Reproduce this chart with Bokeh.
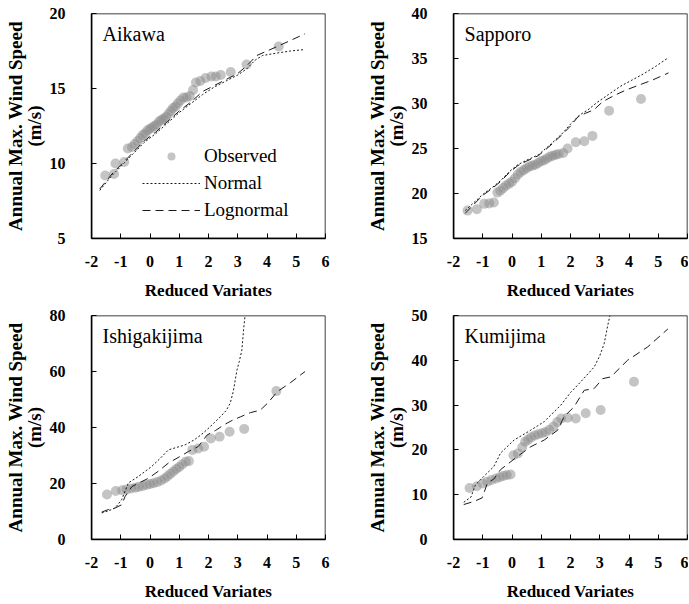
from bokeh.plotting import figure
from bokeh.layouts import column, row
from bokeh.models import Range1d, FixedTicker, Label, Legend, LegendItem, BoxAnnotation
from bokeh.embed import file_html
from bokeh.resources import INLINE

FONT = "Liberation Serif"

# ---------------- data ----------------
x_ticks = [-2, -1, 0, 1, 2, 3, 4, 5, 6]
x_tick_labels = {-2: "-2", -1: "-1", 0: "0", 1: "1", 2: "2", 3: "3", 4: "4", 5: "5", 6: "6"}
x_title = "Reduced Variates"
y_title = "Annual Max. Wind Speed\n(m/s)"
legend_labels = ["Observed", "Normal", "Lognormal"]

# Aikawa
aik_name = "Aikawa"
aik_yrange = [5, 20]
aik_yticks = [5, 10, 15, 20]
aik_obs_x = [-1.53, -1.23, -1.18, -0.88, -0.76, -0.62, -0.52, -0.42, -0.33, -0.25, -0.17, -0.09,
             -0.01, 0.07, 0.15, 0.23, 0.31, 0.39, 0.47, 0.55, 0.63, 0.71, 0.79, 0.87, 0.95, 1.04,
             1.14, 1.25, 1.36, 1.47, 1.57, 1.72, 1.9, 2.1, 2.25, 2.42, 2.76, 3.3, 4.4]
aik_obs_y = [9.2, 9.3, 10.0, 10.1, 11.0, 11.1, 11.3, 11.5, 11.7, 11.9, 12.0, 12.2,
             12.3, 12.4, 12.5, 12.6, 12.8, 12.9, 13.0, 13.1, 13.3, 13.5, 13.7, 13.8, 14.0, 14.2,
             14.4, 14.4, 14.5, 14.9, 15.4, 15.5, 15.7, 15.8, 15.8, 15.9, 16.1, 16.6, 17.8]
aik_norm_x = [-1.72, -1.3, -1.0, -0.6, -0.2, 0.2, 0.6, 1.0, 1.4, 1.8, 2.2, 2.6, 3.0, 3.3, 3.6, 3.85, 4.3, 4.8, 5.3]
aik_norm_y = [8.2, 9.2, 9.8, 10.6, 11.4, 12.0, 12.7, 13.4, 14.0, 14.6, 15.1, 15.5, 15.9, 16.3, 16.9, 17.2, 17.35, 17.5, 17.6]
aik_logn_x = [-1.72, -1.3, -1.0, -0.6, -0.2, 0.2, 0.6, 1.0, 1.4, 1.8, 2.2, 2.6, 3.0, 3.3, 3.65, 4.0, 4.35, 4.8, 5.3]
aik_logn_y = [8.3, 9.3, 9.9, 10.7, 11.5, 12.1, 12.8, 13.5, 14.1, 14.8, 15.2, 15.6, 16.0, 16.5, 17.2, 17.5, 17.8, 18.2, 18.65]

# Sapporo
sap_name = "Sapporo"
sap_yrange = [15, 40]
sap_yticks = [15, 20, 25, 30, 35, 40]
sap_obs_x = [-1.52, -1.2, -0.95, -0.78, -0.62, -0.5, -0.4, -0.3, -0.2, -0.1, 0.0, 0.1, 0.2, 0.3,
             0.4, 0.5, 0.6, 0.7, 0.8, 0.9, 1.0, 1.1, 1.2, 1.3, 1.4, 1.5, 1.6, 1.75, 1.9, 2.18,
             2.47, 2.75, 3.32, 4.41]
sap_obs_y = [18.1, 18.25, 18.85, 18.9, 19.0, 20.1, 20.3, 20.6, 20.9, 21.1, 21.3, 21.7, 22.1, 22.4,
             22.6, 22.8, 23.0, 23.1, 23.2, 23.4, 23.6, 23.7, 23.9, 24.1, 24.2, 24.3, 24.4, 24.5, 25.0, 25.7,
             25.8, 26.4, 29.2, 30.5]
sap_norm_x = [-1.6, -1.3, -1.0, -0.7, -0.4, -0.1, 0.2, 0.5, 0.9, 1.3, 1.7, 2.0, 2.3, 2.6, 2.9, 3.3, 3.7, 4.1, 4.5, 4.9, 5.35]
sap_norm_y = [18.1, 19.0, 19.9, 20.6, 21.4, 22.4, 23.2, 23.7, 24.3, 25.4, 26.6, 27.7, 28.7, 29.3, 30.1, 31.0, 31.9, 32.6, 33.3, 34.1, 35.1]
sap_logn_x = [-1.6, -1.3, -1.0, -0.7, -0.4, -0.1, 0.2, 0.5, 0.9, 1.3, 1.7, 2.0, 2.25, 2.5, 2.8, 3.1, 3.5, 3.9, 4.3, 4.8, 5.35]
sap_logn_y = [17.8, 18.8, 19.8, 20.5, 21.3, 22.3, 23.1, 23.6, 24.2, 25.3, 26.5, 27.5, 28.5, 28.9, 29.3, 30.2, 30.9, 31.5, 32.0, 32.6, 33.4]

# Ishigakijima
ish_name = "Ishigakijima"
ish_yrange = [0, 80]
ish_yticks = [0, 20, 40, 60, 80]
ish_obs_x = [-1.47, -1.17, -0.95, -0.8, -0.65, -0.5, -0.38, -0.25, -0.12, 0.0, 0.12, 0.25, 0.38,
             0.5, 0.6, 0.7, 0.8, 0.9, 1.0, 1.1, 1.22, 1.33, 1.45, 1.65, 1.85, 2.08, 2.38, 2.72,
             3.22, 4.32]
ish_obs_y = [16.1, 17.3, 17.6, 17.9, 18.2, 18.5, 18.8, 19.1, 19.5, 19.8, 20.1, 20.5, 21.1,
             21.8, 22.6, 23.5, 24.3, 25.2, 25.9, 26.8, 27.8, 28.0, 32.0, 32.5, 33.1, 36.1, 36.7, 38.5,
             39.5, 53.0]
ish_norm_x = [-1.65, -1.4, -1.19, -0.97, -0.74, -0.4, 0.06, 0.35, 0.63, 1.2, 1.5, 1.76, 2.06, 2.4,
              2.6, 2.74, 2.85, 2.97, 3.05, 3.14, 3.2, 3.25]
ish_norm_y = [9.5, 10.3, 11.3, 14.2, 20.2, 22.5, 26.1, 29.0, 32.0, 33.8, 35.5, 37.5, 40.3, 43.8,
              46.0, 48.6, 53.0, 60.4, 63.5, 67.6, 75.0, 80.0]
ish_logn_x = [-1.65, -1.42, -1.2, -0.97, -0.85, -0.62, -0.05, 0.3, 0.63, 1.0, 1.31, 1.65, 1.95, 2.25,
              2.52, 2.8, 3.09, 3.43, 3.77, 4.05, 4.34, 4.8, 5.3]
ish_logn_y = [9.8, 10.7, 11.2, 12.4, 15.4, 18.9, 21.9, 24.5, 27.3, 29.5, 31.4, 33.2, 37.3, 39.0,
              40.9, 42.5, 43.8, 45.3, 46.2, 49.0, 52.7, 56.0, 60.0]

# Kumijima
kum_name = "Kumijima"
kum_yrange = [0, 50]
kum_yticks = [0, 10, 20, 30, 40, 50]
kum_obs_x = [-1.45, -1.2, -1.0, -0.85, -0.7, -0.55, -0.42, -0.3, -0.18, -0.05, 0.05, 0.2, 0.35,
             0.45, 0.55, 0.65, 0.78, 0.9, 1.03, 1.15, 1.28, 1.42, 1.55, 1.68, 1.9, 2.18, 2.52,
             3.03, 4.17]
kum_obs_y = [11.5, 11.9, 12.5, 12.9, 13.3, 13.6, 13.9, 14.2, 14.4, 14.5, 18.8, 19.2, 20.6,
             21.8, 22.3, 22.8, 23.2, 23.5, 23.7, 24.0, 24.5, 25.2, 26.2, 27.0, 27.2, 27.0, 28.2,
             28.9, 35.2]
kum_norm_x = [-1.65, -1.4, -1.25, -0.96, -0.62, -0.39, 0.07, 0.64, 1.1, 1.67, 2.0, 2.35, 2.81,
              3.0, 3.15, 3.28, 3.35]
kum_norm_y = [8.3, 9.5, 12.2, 14.1, 16.3, 19.3, 22.2, 24.4, 26.3, 30.0, 32.8, 35.2, 38.5,
              41.0, 43.7, 48.0, 50.0]
kum_logn_x = [-1.65, -1.3, -1.02, -0.84, -0.62, -0.39, 0.18, 0.64, 1.1, 1.56, 1.78, 2.12, 2.47,
              2.81, 3.1, 3.38, 3.95, 4.64, 5.33]
kum_logn_y = [7.8, 8.5, 9.3, 12.6, 13.5, 15.6, 18.5, 20.7, 22.2, 24.4, 27.4, 29.6, 33.3,
              33.7, 35.9, 36.3, 40.0, 43.0, 47.0]


def make_panel(name, yrange, yticks, ox, oy, nx, ny, lx, ly,
               width, height, bl, br, bt, bb):
    p = figure(width=width, height=height, output_backend="svg", toolbar_location=None,
               x_range=Range1d(-2, 6), y_range=Range1d(yrange[0], yrange[1]),
               min_border_left=bl, min_border_right=br, min_border_top=bt, min_border_bottom=bb)
    p.grid.visible = False
    p.background_fill_color = "white"
    p.border_fill_color = "white"
    p.outline_line_color = None

    for ax in (p.xaxis[0], p.yaxis[0]):
        ax.axis_line_color = "black"
        ax.axis_line_width = 1.5
        ax.major_tick_in = 5
        ax.major_tick_out = 0
        ax.major_tick_line_width = 1
        ax.minor_tick_in = 0
        ax.minor_tick_out = 0
        ax.major_label_text_font = FONT
        ax.major_label_text_font_style = "bold"
        ax.major_label_text_font_size = "16px"
        ax.major_label_text_color = "black"
        ax.axis_label_text_font = FONT
        ax.axis_label_text_font_style = "bold"
        ax.axis_label_text_color = "black"

    p.xaxis.ticker = FixedTicker(ticks=x_ticks)
    p.xaxis.major_label_overrides = x_tick_labels
    p.yaxis.ticker = FixedTicker(ticks=yticks)
    p.xaxis.axis_label = x_title
    p.xaxis.axis_label_text_font_size = "17px"
    p.xaxis.major_label_standoff = 17
    p.xaxis.axis_label_standoff = 11
    p.yaxis.axis_label = y_title
    p.yaxis.axis_label_text_font_size = "19px"
    p.yaxis.axis_label_text_line_height = 0.9
    p.yaxis.major_label_standoff = 26
    p.yaxis.axis_label_standoff = 2

    r_obs = p.scatter(ox, oy, size=10, fill_color="#8a8a8a", fill_alpha=0.5, line_color=None)
    r_n = p.line(nx, ny, line_color="#1a1a1a", line_width=1, line_dash="2 2")
    r_l = p.line(lx, ly, line_color="#1a1a1a", line_width=1, line_dash="8 5")

    box = BoxAnnotation(fill_alpha=0, line_color="black", line_alpha=1.0, line_width=1.5)
    p.add_layout(box)

    ytop = yrange[1] - (yrange[1] - yrange[0]) * 0.042
    p.add_layout(Label(x=-1.62, y=ytop, text=name, text_font=FONT, text_font_size="20px",
                       text_baseline="top", text_color="black"))
    return p, r_obs, r_n, r_l


p1, o1, n1, l1 = make_panel(aik_name, aik_yrange, aik_yticks, aik_obs_x, aik_obs_y,
                            aik_norm_x, aik_norm_y, aik_logn_x, aik_logn_y,
                            345, 302, 91, 20, 13, 64)
p2, _, _, _ = make_panel(sap_name, sap_yrange, sap_yticks, sap_obs_x, sap_obs_y,
                         sap_norm_x, sap_norm_y, sap_logn_x, sap_logn_y,
                         343, 302, 108, 1, 13, 64)
p3, _, _, _ = make_panel(ish_name, ish_yrange, ish_yticks, ish_obs_x, ish_obs_y,
                         ish_norm_x, ish_norm_y, ish_logn_x, ish_logn_y,
                         345, 301, 91, 20, 13, 63)
p4, _, _, _ = make_panel(kum_name, kum_yrange, kum_yticks, kum_obs_x, kum_obs_y,
                         kum_norm_x, kum_norm_y, kum_logn_x, kum_logn_y,
                         343, 301, 108, 1, 13, 63)

legend = Legend(items=[LegendItem(label=legend_labels[0], renderers=[o1]),
                       LegendItem(label=legend_labels[1], renderers=[n1]),
                       LegendItem(label=legend_labels[2], renderers=[l1])],
                location=(51, 17), glyph_width=58, glyph_height=20, label_height=20,
                label_standoff=4, spacing=5, padding=0, margin=0,
                border_line_color=None, background_fill_alpha=0,
                label_text_font=FONT, label_text_font_size="19px", label_text_color="black")
p1.add_layout(legend)

layout = column(row(p1, p2, spacing=0), row(p3, p4, spacing=0), spacing=0)

with open("out.html", "w") as f:
    f.write(file_html(layout, INLINE))
